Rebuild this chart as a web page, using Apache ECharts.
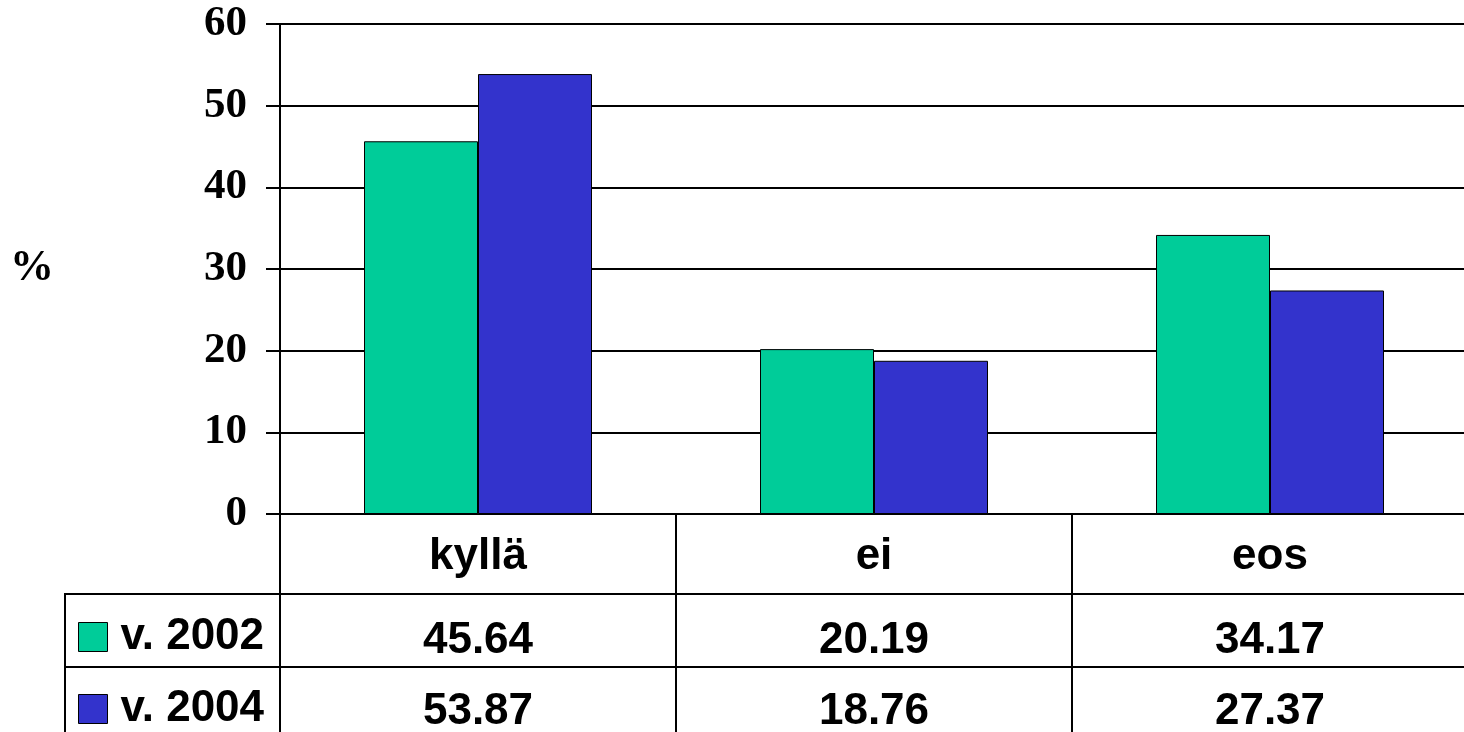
<!DOCTYPE html>
<html>
<head>
<meta charset="utf-8">
<script src="https://cdn.jsdelivr.net/npm/echarts@6/dist/echarts.min.js"></script>
<style>
html,body{margin:0;padding:0;background:#fff;}
#chart{width:1464px;height:732px;}
</style>
</head>
<body>
<div id="chart"></div>
<script>
var categories = ['kyllä', 'ei', 'eos'];
var seriesNames = ['v. 2002', 'v. 2004'];
var values2002 = [45.64, 20.19, 34.17];
var values2004 = [53.87, 18.76, 27.37];
var yTicks = [0, 10, 20, 30, 40, 50, 60];

var chart = echarts.init(document.getElementById('chart'));
var sans = '"Liberation Sans", Arial, sans-serif';
var serif = '"Liberation Serif", "Times New Roman", serif';

chart.setOption({
  animation: false,
  backgroundColor: '#fff',
  grid: { left: 280, top: 24, width: 1188, bottom: 218, containLabel: false, outerBoundsMode: 'none' },
  legend: {
    orient: 'vertical',
    left: 78,
    top: 615,
    padding: 0,
    itemGap: 28,
    itemWidth: 29,
    itemHeight: 29,
    icon: 'rect',
    selectedMode: false,
    itemStyle: { borderColor: '#000', borderWidth: 1 },
    textStyle: { fontFamily: sans, fontWeight: 'bold', fontSize: 44, lineHeight: 44, color: '#000', padding: [0, 0, 0, 8] },
    data: seriesNames
  },
  xAxis: {
    type: 'category',
    data: categories,
    axisLine: { show: true, lineStyle: { color: '#000', width: 2 } },
    axisTick: { show: true, alignWithLabel: false, interval: 0, length: 240, lineStyle: { color: '#000', width: 2 } },
    axisLabel: {
      interval: 0,
      margin: -5,
      formatter: function (val, idx) {
        return '{c|' + val + '}\n{v|' + values2002[idx].toFixed(2) + '}\n{v|' + values2004[idx].toFixed(2) + '}';
      },
      rich: {
        c: { fontFamily: sans, fontWeight: 'bold', fontSize: 44, lineHeight: 96, color: '#000' },
        v: { fontFamily: sans, fontWeight: 'bold', fontSize: 44, lineHeight: 71, color: '#000' }
      }
    },
    splitLine: { show: false }
  },
  yAxis: {
    type: 'value',
    min: 0,
    max: 60,
    interval: 10,
    name: '%',
    nameLocation: 'middle',
    nameRotate: 0,
    nameGap: 226,
    nameTextStyle: { fontFamily: serif, fontWeight: 'bold', fontSize: 44, color: '#000', align: 'right', verticalAlign: 'middle', padding: [14, 0, 0, 0] },
    axisLine: { show: true, lineStyle: { color: '#000', width: 2 } },
    axisTick: { show: true, length: 14, lineStyle: { color: '#000', width: 2 } },
    axisLabel: {
      margin: 33,
      fontFamily: serif, fontWeight: 'bold', fontSize: 43, color: '#000',
      padding: [10, 0, 0, 0],
      formatter: function (v) { return yTicks.indexOf(v) >= 0 ? String(v) : ''; }
    },
    splitLine: { show: true, lineStyle: { color: '#000', width: 2 } }
  },
  series: [
    {
      name: seriesNames[0], type: 'bar', data: values2002,
      barWidth: 114, barGap: '0%',
      itemStyle: { color: '#00CC99', borderColor: '#000', borderWidth: 1 }
    },
    {
      name: seriesNames[1], type: 'bar', data: values2004,
      barWidth: 114, barGap: '0%',
      itemStyle: { color: '#3333CC', borderColor: '#000', borderWidth: 1 }
    }
  ],
  graphic: [
    { type: 'line', shape: { x1: 65, y1: 594, x2: 1464, y2: 594 }, style: { stroke: '#000', lineWidth: 2 } },
    { type: 'line', shape: { x1: 65, y1: 667, x2: 1464, y2: 667 }, style: { stroke: '#000', lineWidth: 2 } },
    { type: 'line', shape: { x1: 65, y1: 593, x2: 65, y2: 732 }, style: { stroke: '#000', lineWidth: 2 } }
  ]
});
</script>
</body>
</html>
